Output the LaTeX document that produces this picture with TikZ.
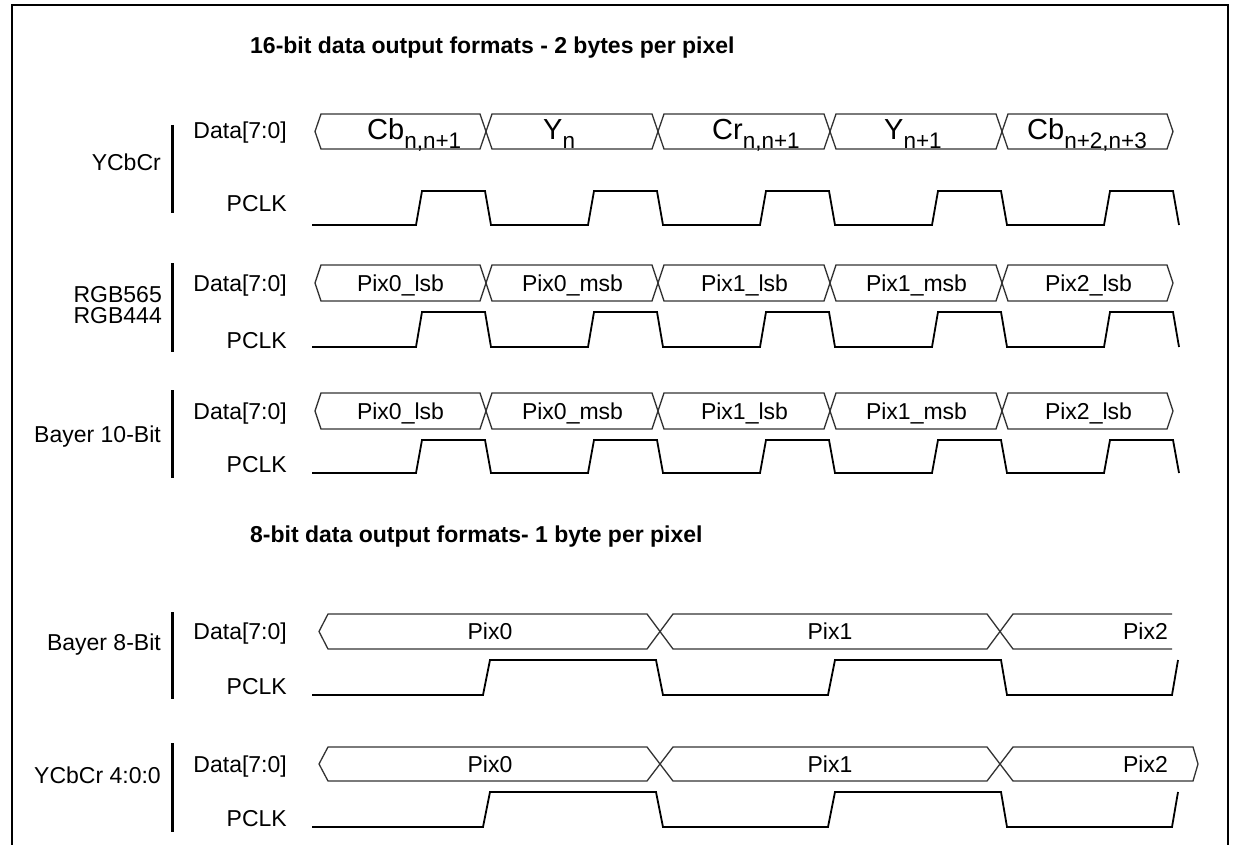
\documentclass[tikz,border=0pt]{standalone}
\usepackage{fontspec}
\setmainfont{Liberation Sans}
\newcommand\busseg[6]{% left right top bottom dleft dright
  \draw[busline] (#1,{(#3+#4)/2}) -- ({#1+#5},#3) -- ({#2-#6},#3) -- (#2,{(#3+#4)/2}) -- ({#2-#6},#4) -- ({#1+#5},#4) -- cycle;}
\newcommand\subtx[1]{\raisebox{-9pt}{\fontsize{22.5}{23}\selectfont #1}}
\tikzset{
  lbl/.style={font=\fontsize{23}{27}\selectfont, inner sep=0pt, text height=16.5pt, text depth=0pt},
  ttl/.style={font=\fontsize{23}{27}\selectfont\bfseries, inner sep=0pt, text height=16.5pt, text depth=0pt},
  bigtxt/.style={font=\fontsize{29}{33}\selectfont, inner sep=0pt, anchor=base west},
  busline/.style={line width=1.3pt, draw=black!80, line join=miter},
  clk/.style={line width=1.8pt, line join=miter},
  grpbar/.style={line width=3pt},
  frameline/.style={line width=2.5pt, line join=miter},
}
\begin{document}
\begin{tikzpicture}[x=1pt,y=-1pt]
\useasboundingbox (0,0) rectangle (1233,845);
\fill[white] (0,0) rectangle (1233,845);
% frame
\draw[frameline] (12,845) -- (12,5) -- (1228,5) -- (1228,845);
% titles
\node[ttl, anchor=west] (t16) at (250,45) {16-bit data output formats - 2 bytes per pixel};
\node[ttl, anchor=west] (t8) at (250,534) {8-bit data output formats- 1 byte per pixel};

% ---------- group labels and bars
\node[lbl, anchor=east] (g1) at (161,162) {YCbCr};
\node[lbl, anchor=east] (g2a) at (162,294) {RGB565};
\node[lbl, anchor=east] (g2b) at (162,315) {RGB444};
\node[lbl, anchor=east] (g3) at (161,434) {Bayer 10-Bit};
\node[lbl, anchor=east] (g4) at (161,642) {Bayer 8-Bit};
\node[lbl, anchor=east] (g5) at (161,775) {YCbCr 4:0:0};
\draw[grpbar] (172,125) -- (172,213);
\draw[grpbar] (172,263) -- (172,352);
\draw[grpbar] (172,390) -- (172,478);
\draw[grpbar] (172,612) -- (172,699);
\draw[grpbar] (172,743) -- (172,832);

% signal names
\node[lbl, anchor=east] (d1) at (287,130) {Data[7:0]};
\node[lbl, anchor=east] (c1) at (287,203) {PCLK};
\node[lbl, anchor=east] (d2) at (287,283) {Data[7:0]};
\node[lbl, anchor=east] (c2) at (287,340) {PCLK};
\node[lbl, anchor=east] (d3) at (287,411) {Data[7:0]};
\node[lbl, anchor=east] (c3) at (287,464) {PCLK};
\node[lbl, anchor=east] (d4) at (287,631) {Data[7:0]};
\node[lbl, anchor=east] (c4) at (287,686) {PCLK};
\node[lbl, anchor=east] (d5) at (287,764) {Data[7:0]};
\node[lbl, anchor=east] (c5) at (287,818) {PCLK};

% ---------- 16-bit rows: data buses
\foreach \top/\bot in {114/149, 265/301, 393/429}{
  \foreach \l/\r in {315/486, 486/658, 658/830, 830/1002, 1002/1173}{
    \busseg{\l}{\r}{\top}{\bot}{6}{6}
  }
}
% row 1 contents
\node[bigtxt] (y1a) at (367,140) {Cb\subtx{n,n+1}};
\node[bigtxt] (y1b) at (543,140) {Y\subtx{n}};
\node[bigtxt] (y1c) at (712,140) {Cr\subtx{n,n+1}};
\node[bigtxt] (y1d) at (884,140) {Y\subtx{n+1}};
\node[bigtxt] (y1e) at (1027,140) {Cb\subtx{n+2,n+3}};
% rows 2 and 3 contents
\foreach \ry/\nm in {283/r, 411/s}{
  \foreach \t [count=\i from 0] in {Pix0\_lsb, Pix0\_msb, Pix1\_lsb, Pix1\_msb, Pix2\_lsb}{
    \node[lbl] (\nm\i) at ({400.5+172*\i},\ry) {\t};
  }
}
% 16-bit clocks
\foreach \hi/\lo in {191/225, 312/347, 440/473}{
  \draw[clk] (312,\lo) foreach \k in {0,...,4}{ -- ({416+172*\k},\lo) -- ({422+172*\k},\hi) -- ({485+172*\k},\hi) -- ({491+172*\k},\lo) };
}

% ---------- 8-bit rows
% Bayer 8-bit bus (open end)
\busseg{319}{660}{614}{649}{9}{13}
\busseg{660}{1000}{614}{649}{13}{13}
\draw[busline] (1172,614) -- (1013,614) -- (1000,631.5) -- (1013,649) -- (1172,649);
% YCbCr 4:0:0 bus
\busseg{319}{660}{747}{781}{9}{13}
\busseg{660}{1000}{747}{781}{13}{13}
\busseg{1000}{1198}{747}{781}{13}{5}
% contents
\node[lbl] (q0) at (490,631.5) {Pix0};
\node[lbl] (q1) at (830,631.5) {Pix1};
\node[lbl, anchor=east] (q2) at (1168,631.5) {Pix2};
\node[lbl] (u0) at (490,764) {Pix0};
\node[lbl] (u1) at (830,764) {Pix1};
\node[lbl, anchor=east] (u2) at (1168,764) {Pix2};
% 8-bit clocks
\foreach \hi/\lo in {660/695, 792/827}{
  \draw[clk] (312,\lo) -- (483,\lo) -- (490,\hi) -- (656,\hi) -- (663,\lo) -- (828,\lo) -- (835,\hi) -- (1001,\hi) -- (1007,\lo) -- (1172,\lo) -- (1178,\hi);
}
\end{tikzpicture}
\end{document}
